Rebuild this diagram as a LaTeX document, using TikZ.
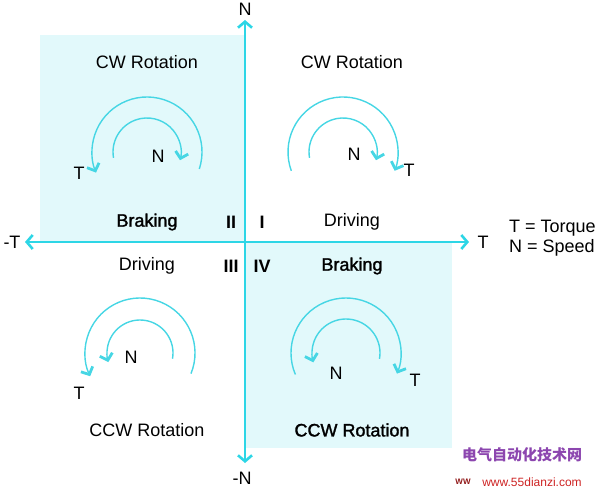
\documentclass[tikz,border=0pt]{standalone}
\usepackage{fontspec}
\setmainfont{Liberation Sans}
\newfontfamily\semib[FakeBold=1.6]{Liberation Sans}
\newfontfamily\cjk{Noto Sans CJK SC}
\usetikzlibrary{arrows.meta}
\definecolor{cy}{RGB}{45,214,230}
\definecolor{arccol}{RGB}{70,214,228}
\definecolor{shadecol}{RGB}{226,249,251}
\definecolor{wmpurple}{RGB}{140,70,175}
\definecolor{wmred}{RGB}{205,35,35}
\begin{document}
\begin{tikzpicture}[x=1pt,y=1pt,
  lbl/.style={font=\fontsize{18}{20}\selectfont, inner sep=0pt, text=black},
  blbl/.style={lbl, font=\semib\fontsize{18}{20}\selectfont},
  num/.style={lbl, font=\fontsize{18}{20}\selectfont\bfseries},
  axis/.style={draw=cy, line width=2.8pt, {Straight Barb[length=6pt,width=14pt,line width=2.6pt]}-{Straight Barb[length=6pt,width=14pt,line width=2.6pt]}},
  rot/.style={draw=arccol, line width=1.4pt, -{Straight Barb[length=6pt,width=13pt,line width=2.8pt]}}
]
\useasboundingbox (0,0) rectangle (599,493);
% shaded quadrants
\fill[shadecol] (40,251) rectangle (245,458);
\fill[shadecol] (245,45) rectangle (452,251);
% axes
\coordinate (xl) at (25,251);
\coordinate (xr) at (469,251);
\coordinate (yt) at (245,473);
\coordinate (yb) at (245,30);
\draw[axis] (xl) -- (xr);
\draw[axis] (yb) -- (yt);
\node[lbl] (lN) at (245,484) {N};
\node[lbl] (lmN) at (242,15) {-N};
\node[lbl] (lmT) at (12,251) {-T};
\node[lbl] (lT) at (483,251) {T};
% legend
\node[lbl, anchor=west] (legT) at (509,265) {T = Torque};
\node[lbl, anchor=west] (legN) at (509,245) {N = Speed};
% quadrant texts
\node[lbl] (q2t) at (147,431) {CW Rotation};
\node[lbl] (q1t) at (352,431) {CW Rotation};
\node[blbl] (q2b) at (147,271) {Braking};
\node[num] (q2n) at (231,271) {II};
\node[num] (q1n) at (262,271) {I};
\node[lbl] (q1d) at (352,271) {Driving};
\node[lbl] (q3d) at (147,227) {Driving};
\node[num] (q3n) at (231,227) {III};
\node[num] (q4n) at (262,227) {IV};
\node[blbl] (q4b) at (352,227) {Braking};
\node[lbl] (q3t) at (147,63) {CCW Rotation};
\node[blbl] (q4t) at (352,63) {CCW Rotation};
% T / N labels
\node[lbl] (q2T) at (79,320) {T};
\node[lbl] (q2N) at (158,337) {N};
\node[lbl] (q1N) at (354,339) {N};
\node[lbl] (q1T) at (409,323) {T};
\node[lbl] (q3N) at (131,136) {N};
\node[lbl] (q3T) at (79,100) {T};
\node[lbl] (q4N) at (336,120) {N};
\node[lbl] (q4T) at (415,113) {T};
% arc centres
\coordinate (c2) at (147,341);
\coordinate (c1) at (343,341);
\coordinate (c3) at (140,140);
\coordinate (c4) at (346,140);
% Q2: braking, CW speed, CCW torque
\draw[rot] ([shift={(190:34)}]c2) arc[start angle=190, end angle=-14, radius=34];
\draw[rot] ([shift={(-18:55)}]c2) arc[start angle=-18, end angle=202, radius=55];
% Q1: driving, CW
\draw[rot] ([shift={(190:34)}]c1) arc[start angle=190, end angle=-14, radius=34];
\draw[rot] ([shift={(200:55)}]c1) arc[start angle=200, end angle=-20, radius=55];
% Q3: driving, CCW
\draw[rot] ([shift={(-10:33)}]c3) arc[start angle=-10, end angle=196, radius=33];
\draw[rot] ([shift={(-22:55)}]c3) arc[start angle=-22, end angle=205, radius=55];
% Q4: braking, CCW speed, CW torque
\draw[rot] ([shift={(-10:34)}]c4) arc[start angle=-10, end angle=196, radius=34];
\draw[rot] ([shift={(203:55)}]c4) arc[start angle=203, end angle=-22, radius=55];
% watermark
\node[inner sep=0pt, text=wmpurple, font=\cjk\fontsize{15}{17}\selectfont\bfseries] (wm1) at (522,38) {电气自动化技术网};
\node[inner sep=0pt, text=wmred!70!black, font=\fontsize{8}{9}\selectfont\bfseries] (wm0) at (463,11) {WW};
\node[inner sep=0pt, text=wmred, font=\fontsize{12}{14}\selectfont] (wm2) at (532,11) {www.55dianzi.com};
\end{tikzpicture}
\end{document}
